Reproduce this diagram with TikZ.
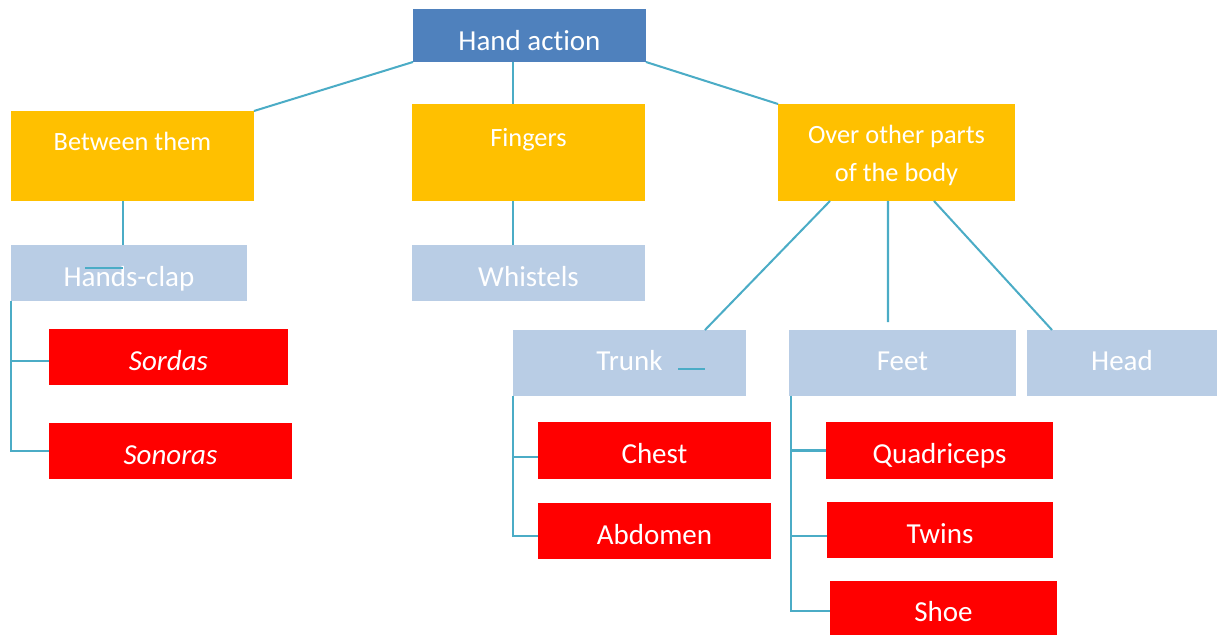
\documentclass[tikz,border=0pt]{standalone}
\usepackage{fontspec}
\setmainfont{Carlito}[Ligatures={NoCommon}]
\definecolor{TopBlue}{RGB}{79,129,189}
\definecolor{CatGold}{RGB}{255,192,0}
\definecolor{SubBlue}{RGB}{185,205,229}
\definecolor{LeafRed}{RGB}{255,0,0}
\definecolor{LinkTeal}{RGB}{75,172,198}
\usetikzlibrary{positioning}

\begin{document}
\begin{tikzpicture}[
    x=0.02cm, y=-0.02cm,
    box/.style={rectangle, inner sep=0pt, outer sep=0pt, anchor=north west,
                text=white, align=center, font=\fontsize{16.5}{21.5}\selectfont,
                text height=15pt, text depth=0pt},
    topbox/.style={box, fill=TopBlue, text height=17pt},
    catbox/.style={box, fill=CatGold, font=\fontsize{15}{21.5}\selectfont,
                   text height=0pt, text depth=6.3pt},
    subbox/.style={box, fill=SubBlue},
    leafbox/.style={box, fill=LeafRed},
    link/.style={draw=LinkTeal, line width=1.15pt}
  ]
    \useasboundingbox (0,0) rectangle (1223,635);

    % top and categories
    \node[topbox, minimum width=4.66cm, minimum height=1.06cm] (hand) at (413,9) {Hand action};
    \node[catbox, minimum width=4.86cm, minimum height=1.80cm] (betw) at (11,111) {Between them};
    \node[catbox, minimum width=4.66cm, minimum height=1.94cm] (fing) at (412,104) {Fingers};
    \node[catbox, minimum width=4.74cm, minimum height=1.94cm, text height=, text depth=] (over) at (778,104) {\rule{0pt}{14pt}Over other parts\\of the body};

    % second level
    \node[subbox, minimum width=4.72cm, minimum height=1.12cm] (clap) at (11,245) {Hands-clap};
    \node[subbox, minimum width=4.66cm, minimum height=1.12cm] (whis) at (412,245) {Whistels};
    \node[subbox, minimum width=4.66cm, minimum height=1.32cm, text height=8pt] (trunk) at (513,330) {Trunk};
    \node[subbox, minimum width=4.54cm, minimum height=1.32cm, text height=8pt] (feet) at (789,330) {Feet};
    \node[subbox, minimum width=3.80cm, minimum height=1.32cm, text height=8pt] (head) at (1027,330) {Head};

    % leaves
    \node[leafbox, minimum width=4.78cm, minimum height=1.12cm] (sord) at (49,329) {\itshape Sordas};
    \node[leafbox, minimum width=4.86cm, minimum height=1.12cm] (sono) at (49,423) {\itshape Sonoras};
    \node[leafbox, minimum width=4.66cm, minimum height=1.14cm] (chest) at (538,422) {Chest};
    \node[leafbox, minimum width=4.66cm, minimum height=1.12cm] (abdo) at (538,503) {Abdomen};
    \node[leafbox, minimum width=4.54cm, minimum height=1.14cm] (quad) at (826,422) {Quadriceps};
    \node[leafbox, minimum width=4.52cm, minimum height=1.12cm] (twin) at (827,502) {Twins};
    \node[leafbox, minimum width=4.54cm, minimum height=1.08cm] (shoe) at (830,581) {Shoe};

    % loose connector pieces
    \coordinate (clapA) at (85,268);  \coordinate (clapB) at (123,268);
    \coordinate (trunkA) at (678,369); \coordinate (trunkB) at (705,369);

    \draw[link] (hand.south west) -- (betw.north east);
    \draw[link] ([xshift=2.02cm]fing.north west |- hand.south) -- ([xshift=2.02cm]fing.north west);
    \draw[link] (hand.south east) -- (over.north west);
    \draw[link] ([xshift=2.24cm]betw.south west) -- ([xshift=2.24cm]clap.north west);
    \draw[link] ([xshift=2.02cm]fing.south west) -- ([xshift=2.02cm]whis.north west);
    \draw[link] ([xshift=1.04cm]over.south west) -- ([xshift=3.84cm]trunk.north west);
    \draw[link] ([xshift=2.20cm]over.south west) -- ([xshift=1.98cm,yshift=0.16cm]feet.north west);
    \draw[link] ([xshift=3.12cm]over.south west) -- ([xshift=0.50cm]head.north west);
    \draw[link] (clap.south west) |- ([yshift=-0.08cm]sord.west);
    \draw[link] (clap.south west) |- (sono.west);
    \draw[link] (trunk.south west) |- ([yshift=-0.13cm]chest.west);
    \draw[link] (trunk.south west) |- ([yshift=-0.10cm]abdo.west);
    \draw[link] ([xshift=0.04cm]feet.south west) |- (quad.west);
    \draw[link] ([xshift=0.04cm]feet.south west) |- ([yshift=-0.12cm]twin.west);
    \draw[link] ([xshift=0.04cm]feet.south west) |- ([yshift=-0.06cm]shoe.west);
    \draw[link] (clapA) -- (clapB);
    \draw[link] (trunkA) -- (trunkB);
  \end{tikzpicture}
\end{document}
